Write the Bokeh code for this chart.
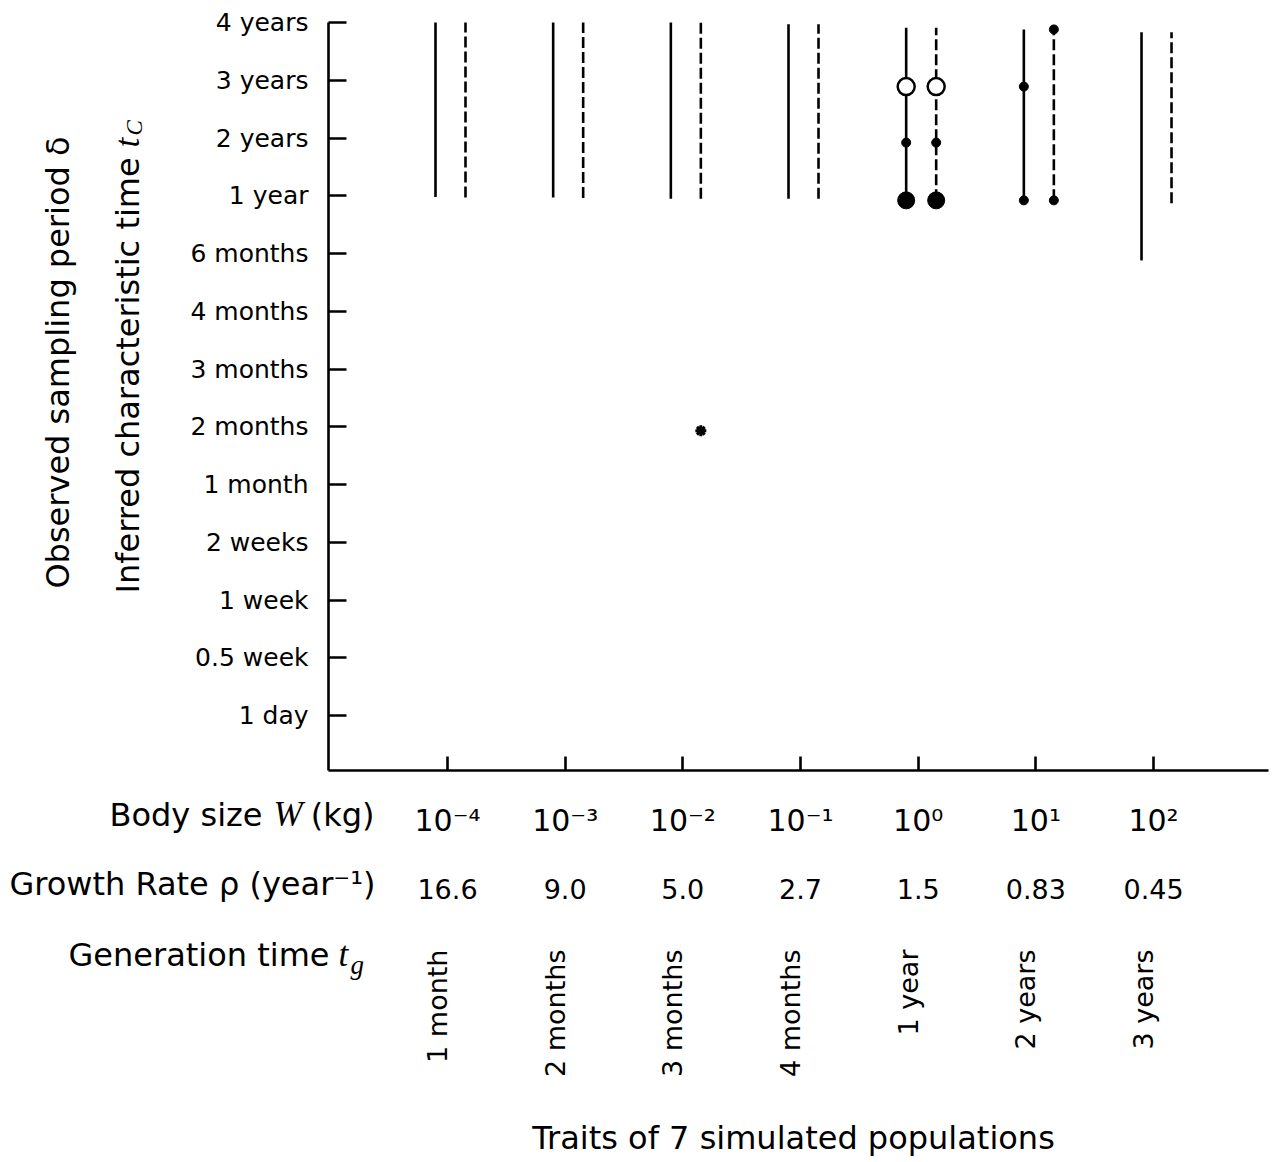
import math
from bokeh.plotting import figure
from bokeh.models import Range1d, FixedTicker, LabelSet, ColumnDataSource, LinearAxis
from bokeh.core.properties import value
from bokeh.embed import file_html
from bokeh.resources import INLINE

# ---------------- data ----------------
y_tick_labels = ["1 day", "0.5 week", "1 week", "2 weeks", "1 month", "2 months",
                 "3 months", "4 months", "6 months", "1 year", "2 years", "3 years", "4 years"]
y_tick_pos = list(range(len(y_tick_labels)))

body_size_exp = [-4, -3, -2, -1, 0, 1, 2]
body_size_labels = ["10⁻⁴", "10⁻³", "10⁻²", "10⁻¹", "10⁰", "10¹", "10²"]
growth_rate = ["16.6", "9.0", "5.0", "2.7", "1.5", "0.83", "0.45"]
generation_time = ["1 month", "2 months", "3 months", "4 months", "1 year", "2 years", "3 years"]

solid_top = [12.0, 12.0, 12.0, 11.97, 11.91, 11.88, 11.83]
solid_bottom = [8.98, 8.97, 8.95, 8.95, 8.92, 8.92, 7.88]
dashed_top = [12.0, 12.0, 12.0, 11.97, 11.91, 11.88, 11.83]
dashed_bottom = [8.97, 8.96, 8.95, 8.95, 8.92, 8.92, 8.87]

# markers: population index, line kind, y value
big_dot_pop = [4, 4]
big_dot_kind = ["solid", "dashed"]
big_dot_y = [8.92, 8.92]

small_dot_pop = [4, 4, 5, 5, 5, 5]
small_dot_kind = ["solid", "dashed", "solid", "solid", "dashed", "dashed"]
small_dot_y = [9.92, 9.92, 10.89, 8.92, 11.88, 8.92]

open_circle_pop = [4, 4]
open_circle_kind = ["solid", "dashed"]
open_circle_y = [10.89, 10.89]

asterisk_pop = [2]
asterisk_kind = ["dashed"]
asterisk_y = [4.93]

# ---------------- layout constants ----------------
W, H = 1278, 1162
PX_X = 117.67          # px per decade of body size
PX_Y = 57.75           # px per y step
X_REF_PX, X_REF = 447, -4
Y_REF_PX, Y_REF = 22, 12


def xdata(px):
    return X_REF + (px - X_REF_PX) / PX_X


def ydata(py):
    return Y_REF - (py - Y_REF_PX) / PX_Y


AX_LEFT, AX_RIGHT, AX_TOP, AX_BOTTOM = 328, 1268, 22, 770
SOLID_DX = -12 / PX_X
DASHED_DX = 18 / PX_X
FONT = "DejaVu Sans"
SERIF = "Liberation Serif"

p = figure(width=W, height=H, output_backend="svg", toolbar_location=None,
           x_range=Range1d(xdata(0), xdata(W)), y_range=Range1d(ydata(H), ydata(0)),
           x_axis_location=None, y_axis_location=None, min_border=0)
p.outline_line_color = None
p.grid.visible = False
p.background_fill_color = "white"
p.border_fill_color = "white"

yax = LinearAxis(fixed_location=xdata(AX_LEFT), bounds=(ydata(AX_BOTTOM), ydata(AX_TOP)))
xax = LinearAxis(fixed_location=ydata(AX_BOTTOM), bounds=(xdata(AX_LEFT), xdata(AX_RIGHT)))
p.add_layout(yax, "left")
p.add_layout(xax, "below")

for ax in (xax, yax):
    ax.axis_line_width = 2.6
    ax.axis_line_color = "black"
    ax.major_tick_line_width = 2.6
    ax.major_tick_line_color = "black"
    ax.minor_tick_line_color = None
    ax.major_tick_out = 0
    ax.major_label_text_color = "black"
    ax.major_label_text_font = FONT

yax.ticker = FixedTicker(ticks=y_tick_pos)
yax.major_label_overrides = dict(zip(y_tick_pos, y_tick_labels))
yax.major_tick_in = 18
yax.major_label_text_font_size = "25px"
yax.major_label_standoff = 20

xax.ticker = FixedTicker(ticks=body_size_exp)
xax.major_label_overrides = dict(zip(body_size_exp, body_size_labels))
xax.major_tick_in = 14
xax.major_label_text_font_size = "30px"
xax.major_label_standoff = 32


def dx(kind):
    return SOLID_DX if kind == "solid" else DASHED_DX


# vertical range lines
xs_solid = [e + SOLID_DX for e in body_size_exp]
xs_dashed = [e + DASHED_DX for e in body_size_exp]
p.segment(x0=xs_solid, y0=solid_bottom, x1=xs_solid, y1=solid_top,
          line_color="black", line_width=2.6)
p.segment(x0=xs_dashed, y0=dashed_bottom, x1=xs_dashed, y1=dashed_top,
          line_color="black", line_width=2.6, line_dash="11 4")

# markers
p.scatter([body_size_exp[i] + dx(k) for i, k in zip(big_dot_pop, big_dot_kind)], big_dot_y,
          marker="circle", size=17, fill_color="black", line_color="black")
p.scatter([body_size_exp[i] + dx(k) for i, k in zip(small_dot_pop, small_dot_kind)], small_dot_y,
          marker="circle", size=9, fill_color="black", line_color="black")
p.scatter([body_size_exp[i] + dx(k) for i, k in zip(open_circle_pop, open_circle_kind)], open_circle_y,
          marker="circle", size=17, fill_color="white", line_color="black", line_width=2.5)
p.scatter([body_size_exp[i] + dx(k) for i, k in zip(asterisk_pop, asterisk_kind)], asterisk_y,
          marker="asterisk", size=11, line_color="black", line_width=3)


# ---------------- text ----------------
def lab(text, cx, cy, size, align="left", angle=0.0, font=FONT, style="normal"):
    p.text(x=[xdata(cx)], y=[ydata(cy)], text=[text],
           text_font=value(font), text_font_size=value(f"{size}px"),
           text_font_style=value(style), text_align=value(align),
           text_baseline=value("middle"), angle=angle, text_color="black")


# row captions on the left (cy = vertical middle of the text)
lab("Body size", 262, 814, 32, align="right")
lab("W", 273, 814, 35, font=SERIF, style="italic")
lab("(kg)", 374, 814, 32, align="right")
lab("Growth Rate ρ (year⁻¹)", 375, 883, 32, align="right")
lab("Generation time", 329, 954, 32, align="right")
lab("t", 338, 954, 35, font=SERIF, style="italic")
lab("g", 350, 964, 27, font=SERIF, style="italic")
lab("Traits of 7 simulated populations", 793, 1137, 32, align="center")

# y titles (cx = horizontal middle of the rotated text)
lab("Observed sampling period δ", 57, 362, 32, align="center", angle=math.pi / 2)
lab("Inferred characteristic time", 127, 593, 32, align="left", angle=math.pi / 2)
lab("t", 127, 147, 35, font=SERIF, style="italic", angle=math.pi / 2)
lab("C", 134, 135, 23, font=SERIF, style="italic", angle=math.pi / 2)

# growth rate values and generation-time labels per population
GEN_DX = -10 / PX_X
src = ColumnDataSource(dict(
    x=body_size_exp,
    xg=[e + GEN_DX for e in body_size_exp],
    rate=growth_rate,
    gen=generation_time,
    yr=[H - 888] * len(body_size_exp),
    yg=[H - 949] * len(body_size_exp),
))
p.add_layout(LabelSet(x="x", y="yr", y_units="screen", text="rate", source=src,
                      text_font=value(FONT), text_font_size="27px", text_align="center",
                      text_baseline="middle", text_color="black"))
p.add_layout(LabelSet(x="xg", y="yg", y_units="screen", text="gen", source=src,
                      text_font=value(FONT), text_font_size="27px", text_align="right",
                      text_baseline="middle", angle=math.pi / 2, text_color="black"))

open("out.html", "w").write(file_html(p, INLINE))
